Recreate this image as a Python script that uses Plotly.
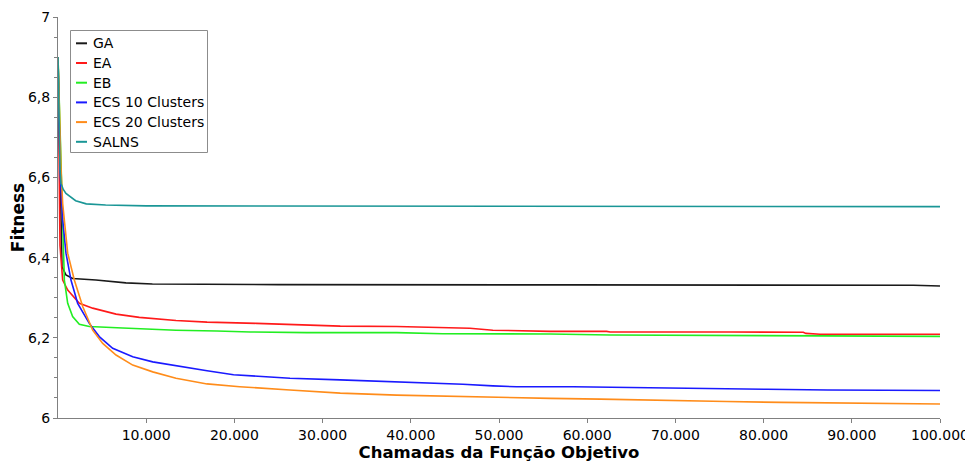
import plotly.graph_objects as go

# ---- data ----
ga_x = [0, 150, 300, 450, 900, 1660, 4300, 7700, 10700, 15000, 25000, 58000, 97000, 100000]
ga_y = [6.9, 6.75, 6.55, 6.377, 6.357, 6.348, 6.344, 6.337, 6.334, 6.3335, 6.3325, 6.332, 6.331, 6.329]

ea_x = [0, 100, 227, 530, 1100, 2420, 3930, 6580, 9220, 13380, 16900, 22500, 29300, 32000,
        38400, 46700, 49300, 55800, 62200, 62600, 76200, 84500, 84800, 86400, 100000]
ea_y = [6.9, 6.7, 6.43, 6.344, 6.319, 6.286, 6.274, 6.259, 6.251, 6.243, 6.239, 6.236, 6.231, 6.229,
        6.228, 6.224, 6.219, 6.216, 6.216, 6.2145, 6.2145, 6.214, 6.211, 6.209, 6.209]

eb_x = [0, 200, 450, 600, 720, 1100, 1660, 2420, 3550, 7330, 13380, 18000, 21800, 28200,
        38400, 43600, 49700, 55800, 62600, 70500, 78000, 100000]
eb_y = [6.9, 6.75, 6.55, 6.45, 6.344, 6.286, 6.253, 6.234, 6.228, 6.2245, 6.219, 6.217, 6.2145, 6.213,
        6.213, 6.210, 6.2095, 6.2095, 6.207, 6.206, 6.2045, 6.2035]

ecs10_x = [0, 230, 530, 907, 1470, 2230, 3550, 4680, 6200, 8470, 10740, 13380, 16900, 19900, 23000,
           26300, 32000, 39100, 45900, 49300, 52000, 58400, 65200, 72800, 80400, 87300, 98300, 100000]
ecs10_y = [6.9, 6.62, 6.494, 6.411, 6.344, 6.286, 6.236, 6.203, 6.174, 6.153, 6.14, 6.13, 6.118, 6.108, 6.103,
           6.099, 6.095, 6.090, 6.084, 6.080, 6.078, 6.078, 6.0756, 6.073, 6.0716, 6.0698, 6.068, 6.0685]

ecs20_x = [0, 340, 530, 1100, 1850, 2800, 3930, 5070, 6580, 8470, 10740, 13380, 16900,
           20600, 26300, 32000, 38400, 45900, 49700, 55800, 61500, 69000, 75800, 82000, 94300, 98800, 100000]
ecs20_y = [6.9, 6.62, 6.535, 6.411, 6.344, 6.278, 6.219, 6.186, 6.157, 6.132, 6.115, 6.099, 6.085,
           6.078, 6.070, 6.062, 6.057, 6.053, 6.051, 6.049, 6.047, 6.043, 6.041, 6.039, 6.037, 6.035, 6.035]

salns_x = [0, 100, 230, 340, 600, 900, 2000, 3200, 5400, 10000, 100000]
salns_y = [6.9, 6.75, 6.62, 6.585, 6.57, 6.56, 6.542, 6.534, 6.531, 6.529, 6.527]

series_names = ["GA", "EA", "EB", "ECS 10 Clusters", "ECS 20 Clusters", "SALNS"]
series_colors = ["#1a1a1a", "#ff1a1a", "#22ee22", "#1a1aff", "#ff8c1a", "#1a9696"]

y_tickvals = [6, 6.2, 6.4, 6.6, 6.8, 7]
y_ticktext = ["6", "6,2", "6,4", "6,6", "6,8", "7"]
x_tickvals = [10000, 20000, 30000, 40000, 50000, 60000, 70000, 80000, 90000, 100000]
x_ticktext = ["10.000", "20.000", "30.000", "40.000", "50.000", "60.000", "70.000", "80.000", "90.000", "100.000"]

xs = [ga_x, ea_x, eb_x, ecs10_x, ecs20_x, salns_x]
ys = [ga_y, ea_y, eb_y, ecs10_y, ecs20_y, salns_y]

fig = go.Figure()
for name, color, x, y in zip(series_names, series_colors, xs, ys):
    fig.add_trace(go.Scatter(x=x, y=y, mode="lines", name=name, showlegend=False,
                             line=dict(color=color, width=1.6)))

# ---- layout geometry (page has an 8px body margin) ----
OFF = 8
W, H = 973 - OFF, 467 - OFF
ML, MR, MT, MB = 58 - OFF, 33, 17 - OFF, 49
PW, PH = W - ML - MR, H - MT - MB


def px2paper_x(px):
    # px given in window pixels
    return (px - OFF - ML) / PW


def py2paper_y(py):
    return (H - MB - (py - OFF)) / PH


shapes = [dict(type="rect", xref="paper", yref="paper",
               x0=px2paper_x(70.5), x1=px2paper_x(207.5),
               y0=py2paper_y(152.5), y1=py2paper_y(30.5),
               line=dict(color="#8c8c8c", width=1), fillcolor="white", layer="above")]
annotations = []
for i, (name, color) in enumerate(zip(series_names, series_colors)):
    cy = 43.3 + i * 19.7
    shapes.append(dict(type="line", xref="paper", yref="paper",
                       x0=px2paper_x(76), x1=px2paper_x(87),
                       y0=py2paper_y(cy), y1=py2paper_y(cy),
                       line=dict(color=color, width=2), layer="above"))
    annotations.append(dict(xref="paper", yref="paper", x=px2paper_x(91), y=py2paper_y(cy),
                            text=name, showarrow=False, xanchor="left", yanchor="middle",
                            font=dict(family="DejaVu Sans", size=14, color="#000000")))

font_family = "DejaVu Sans, Verdana, sans-serif"
fig.update_layout(
    width=W, height=H,
    margin=dict(l=ML, r=MR, t=MT, b=MB, autoexpand=False),
    paper_bgcolor="white", plot_bgcolor="white",
    font=dict(family=font_family, size=14, color="#000000"),
    separators=",.",
    showlegend=False,
    shapes=shapes,
    annotations=annotations,
)
fig.update_xaxes(
    range=[0, 100000], showline=True, linecolor="#808080", linewidth=1,
    showgrid=False, zeroline=False, automargin=False,
    tickvals=x_tickvals, ticktext=x_ticktext,
    ticks="outside", ticklen=4, tickcolor="#808080",
    title=dict(text="Chamadas da Função Objetivo",
               font=dict(size=16.5, family="DejaVu Sans", weight="bold"), standoff=2),
)
fig.update_yaxes(
    range=[6, 7], showline=True, linecolor="#808080", linewidth=1,
    showgrid=False, zeroline=False, automargin=False,
    tickvals=y_tickvals, ticktext=y_ticktext,
    ticks="outside", ticklen=4, tickcolor="#808080",
    minor=dict(dtick=0.05, tick0=6, ticks="outside", ticklen=3, tickcolor="#808080"),
    title=dict(text="Fitness", font=dict(size=17, family="DejaVu Sans", weight="bold"), standoff=0),
)

fig.write_html("out.html")
